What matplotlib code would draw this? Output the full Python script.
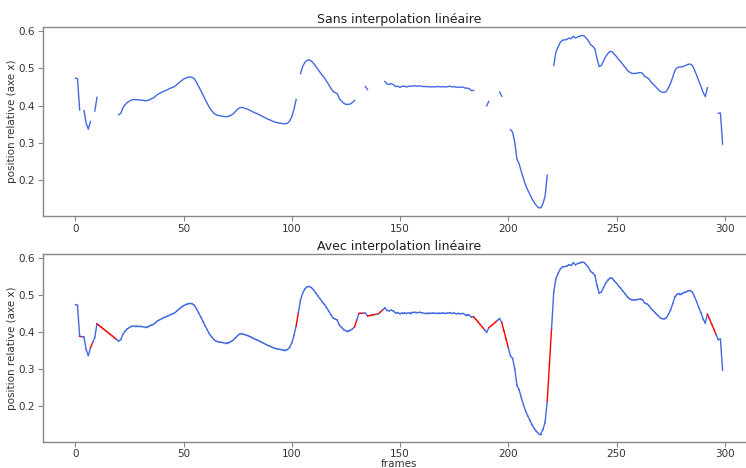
import numpy as np
import pandas as pd
import matplotlib
matplotlib.use("Agg")
import matplotlib.pyplot as plt

nan = np.nan

# position relative (axe x) par frame, NaN = frame non détectée
positions = [
    0.474, 0.472, 0.388, nan, 0.386, 0.352, 0.336, 0.357, nan, 0.385,
    0.422, nan, nan, nan, nan, nan, nan, nan, nan, nan,
    0.375, 0.379, 0.394, 0.402, 0.408, 0.412, 0.415, 0.416, 0.416, 0.415,
    0.415, 0.414, 0.413, 0.413, 0.415, 0.418, 0.420, 0.425, 0.430, 0.433,
    0.436, 0.439, 0.441, 0.444, 0.447, 0.449, 0.452, 0.457, 0.462, 0.467,
    0.471, 0.474, 0.476, 0.477, 0.476, 0.472, 0.462, 0.451, 0.440, 0.428,
    0.416, 0.405, 0.394, 0.386, 0.379, 0.375, 0.373, 0.372, 0.371, 0.370,
    0.370, 0.371, 0.374, 0.378, 0.384, 0.390, 0.394, 0.395, 0.393, 0.391,
    0.389, 0.386, 0.383, 0.380, 0.378, 0.375, 0.372, 0.369, 0.366, 0.363,
    0.361, 0.358, 0.356, 0.354, 0.353, 0.352, 0.351, 0.351, 0.352, 0.358,
    0.370, 0.390, 0.416, nan, 0.486, 0.505, 0.516, 0.522, 0.523, 0.520,
    0.514, 0.506, 0.498, 0.490, 0.482, 0.475, 0.466, 0.457, 0.447, 0.438,
    0.435, 0.432, 0.418, 0.412, 0.406, 0.403, 0.403, 0.404, 0.408, 0.414,
    nan, 0.450, nan, nan, 0.451, 0.443, nan, nan, nan, nan,
    0.449, nan, nan, 0.465, 0.458, 0.457, 0.459, 0.456, 0.451, 0.452,
    0.449, 0.452, 0.452, 0.450, 0.452, 0.452, 0.453, 0.453, 0.452, 0.453,
    0.452, 0.451, 0.451, 0.451, 0.450, 0.451, 0.450, 0.451, 0.451, 0.450,
    0.451, 0.450, 0.451, 0.452, 0.450, 0.451, 0.449, 0.450, 0.449, 0.450,
    0.447, 0.447, 0.445, 0.440, 0.441, nan, nan, nan, nan, nan,
    0.399, 0.411, nan, nan, nan, nan, 0.436, 0.425, nan, nan,
    nan, 0.335, 0.328, 0.300, 0.255, 0.243, 0.222, 0.203, 0.185, 0.172,
    0.160, 0.148, 0.138, 0.130, 0.124, 0.124, 0.135, 0.155, 0.212, nan,
    nan, 0.508, 0.544, 0.558, 0.570, 0.576, 0.577, 0.578, 0.582, 0.580,
    0.587, 0.582, 0.585, 0.587, 0.589, 0.588, 0.582, 0.575, 0.564, 0.560,
    0.553, 0.526, 0.505, 0.508, 0.520, 0.532, 0.540, 0.546, 0.545, 0.538,
    0.532, 0.524, 0.518, 0.510, 0.503, 0.495, 0.490, 0.487, 0.486, 0.487,
    0.488, 0.489, 0.487, 0.478, 0.476, 0.471, 0.463, 0.457, 0.451, 0.445,
    0.439, 0.436, 0.435, 0.438, 0.448, 0.460, 0.477, 0.495, 0.502, 0.504,
    0.504, 0.506, 0.508, 0.511, 0.512, 0.508, 0.496, 0.482, 0.466, 0.452,
    0.435, 0.424, 0.448, nan, nan, nan, nan, 0.379, 0.380, 0.296,
]

frames = np.arange(len(positions))
brut = pd.Series(positions)
interpole = brut.interpolate().values  # interpolation linéaire, comme dans le titre
manquant = brut.isna().values

bleu = "royalblue"
gris = "#888888"


def style_axe(ax):
    for s in ["top", "left", "bottom"]:
        ax.spines[s].set_color(gris)
        ax.spines[s].set_linewidth(1.0)
    ax.spines["right"].set_visible(False)
    ax.tick_params(colors=gris, labelcolor="#333333", labelsize=7.5, length=3.5, width=0.8, pad=2)
    ax.set_xticks([0, 50, 100, 150, 200, 250, 300])
    ax.set_yticks([0.2, 0.3, 0.4, 0.5, 0.6])
    ax.set_ylabel("position relative (axe x)", fontsize=7.5, color="#333333", labelpad=1)


fig = plt.figure(figsize=(7.46, 4.68), dpi=100)
ax1 = fig.add_axes([0.0576, 0.5385, 0.9544, 0.4032])
ax2 = fig.add_axes([0.0576, 0.0560, 0.9544, 0.4012])

# sans interpolation : les trous restent vides
ax1.plot(frames, positions, color=bleu, lw=1.0)
ax1.set_title("Sans interpolation linéaire", fontsize=9, color="#222222", pad=3)
style_axe(ax1)

# avec interpolation : segment rouge quand la frame d'arrivée était manquante
for i in range(len(frames) - 1):
    c = "red" if manquant[i + 1] else bleu
    ax2.plot(frames[i:i + 2], interpole[i:i + 2], color=c, lw=1.0)
ax2.set_title("Avec interpolation linéaire", fontsize=9, color="#222222", pad=3)
ax2.set_xlabel("frames", fontsize=7.5, color="#333333", labelpad=0)
style_axe(ax2)

for ax in (ax1, ax2):
    ax.set_xlim(-14.95, 313.95)
    ax.set_ylim(0.102, 0.611)

fig.savefig("out.png", dpi=100)
